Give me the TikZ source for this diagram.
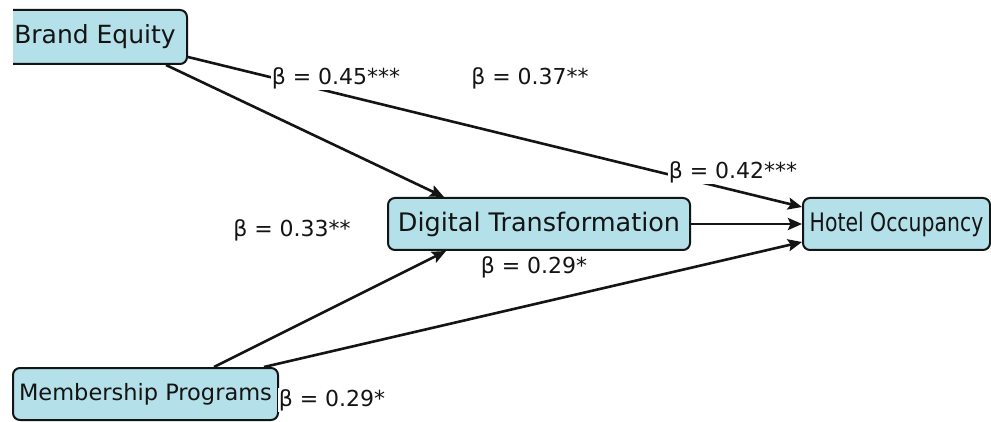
\documentclass[tikz,border=0pt]{standalone}
\usepackage{fontspec}
\setmainfont{DejaVu Sans}
\usetikzlibrary{arrows.meta}
\definecolor{boxfill}{RGB}{180,224,233}
\definecolor{ink}{RGB}{20,20,20}
\tikzset{
  box/.style={draw=ink, line width=2pt, fill=boxfill, rounded corners=7pt,
    inner sep=0pt, text=ink},
  big/.style={font=\fontsize{25.5}{30}\selectfont},
  mid/.style={font=\fontsize{22.5}{27}\selectfont},
  coef/.style={font=\fontsize{22}{26}\selectfont, text=ink, fill=white, inner sep=1pt},
  arr/.style={draw=ink, line width=2.6pt, -{Stealth[length=14pt,width=12pt,inset=2.5pt]}}
}
\begin{document}
\begin{tikzpicture}[x=1pt,y=-1pt]
  \fill[white] (0,0) rectangle (991,422);
  \useasboundingbox (0,0) rectangle (991,422);

  % Brand Equity box runs off the left edge
  \begin{scope}
    \clip (13,-5) rectangle (300,100);
    \node[box, minimum width=200pt, minimum height=54pt] (bebox) at (87,37) {};
  \end{scope}
  \node[font=\fontsize{25}{30}\selectfont, text=ink, inner sep=0pt] (be) at (95,37) {Brand Equity};

  \node[box, big, minimum width=302pt, minimum height=52pt] (dt) at (539,224) {Digital Transformation};
  \node[box, big, minimum width=187pt, minimum height=52pt] (ho) at (896.5,224) {\scalebox{0.8}[1]{Hotel Occupancy}};
  \node[box, mid, minimum width=265pt, minimum height=52pt] (mp) at (145.5,394) {Membership Programs};

  % paths
  \draw[arr] ([xshift=-22pt]bebox.south east) -- ([xshift=57pt]dt.north west);
  \draw[arr] ([yshift=-20pt]bebox.east) -- ([yshift=17pt]ho.west);
  \draw[arr] (dt.east) -- (ho.west);
  \draw[arr] ([xshift=202pt]mp.north west) -- ([xshift=59pt]dt.south west);
  \draw[arr] ([xshift=252pt]mp.north west) -- ([yshift=-18pt]ho.west);

  % path coefficients
  \node[coef] (c45) at (336,78) {β = 0.45***};
  \node[coef] (c37) at (530,78) {β = 0.37**};
  \node[coef] (c42) at (733,172) {β = 0.42***};
  \node[coef] (c33) at (292,230) {β = 0.33**};
  \node[coef] (c29a) at (534,267) {β = 0.29*};
  \node[coef] (c29b) at (332,400) {β = 0.29*};
\end{tikzpicture}
\end{document}
